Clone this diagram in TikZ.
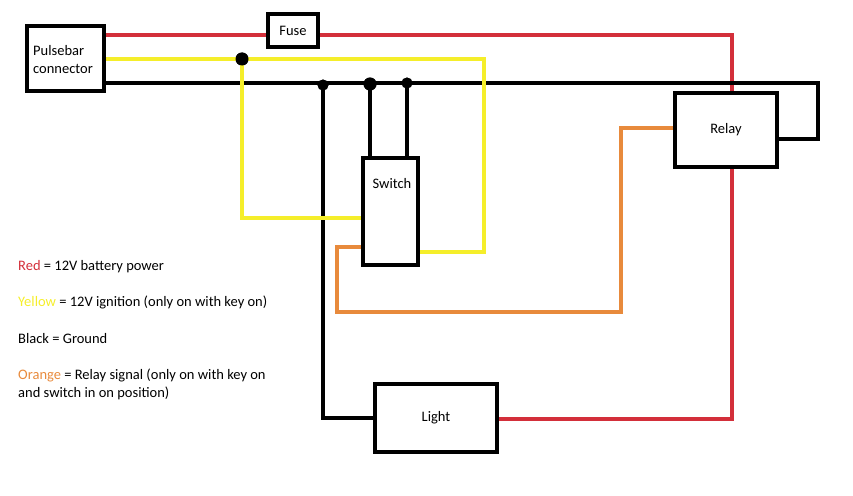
\documentclass[tikz,border=0pt]{standalone}
\usepackage{fontspec}
\setmainfont{Carlito}
\definecolor{wred}{HTML}{D32F3A}
\definecolor{wyel}{HTML}{F5EE2A}
\definecolor{worg}{HTML}{E88A3C}
\begin{document}
\begin{tikzpicture}[x=1pt,y=-1pt,
  box/.style={draw=black,line width=4pt,fill=white,inner sep=0pt,font=\fontsize{14.5}{17}\selectfont},
  wire/.style={line width=4pt},
  dotn/.style={circle,fill=black,inner sep=0pt,minimum size=13pt},
  leg/.style={anchor=west,inner sep=0pt,font=\fontsize{14.5}{18}\selectfont,align=left}]
\useasboundingbox (0,0) rectangle (853,495);
\coordinate (r1) at (732,35);
\coordinate (r2) at (732,419);
\coordinate (y1) at (484,59);
\coordinate (y2) at (484,252);
\coordinate (y3) at (242,218);
\coordinate (b1) at (818,83);
\coordinate (b2) at (818,139);
\coordinate (b3) at (323,418);
\coordinate (o1) at (337,247);
\coordinate (o2) at (337,312);
\coordinate (o3) at (621,312);
\coordinate (o4) at (621,128);
\node[box,minimum width=77pt,minimum height=65pt] (pb) at (65.5,58.5) {};
\node[box,minimum width=50pt,minimum height=33pt] (fuse) at (293,30.5) {};
\node[box,minimum width=55pt,minimum height=107pt] (sw) at (390.5,211.5) {};
\node[box,minimum width=102pt,minimum height=74pt] (relay) at (726,130) {};
\node[box,minimum width=122pt,minimum height=68pt] (light) at (436,418) {};
\node[dotn] (d1) at (242,59) {};
\node[dotn,minimum size=11pt] (d2) at (323,85) {};
\node[dotn] (d3) at (370,84) {};
\node[dotn,minimum size=11pt] (d4) at (407,83) {};
\draw[wire,wred] (pb.east |- 0,35) -- (fuse.west |- 0,35);
\draw[wire,wred] (fuse.east |- 0,35) -- (r1) -- (relay.north -| r1);
\draw[wire,wred] (relay.south -| r1) -- (r2) -- (light.east |- r2);
\draw[wire,black] (pb.east |- 0,83) -- (b1) -- (b2) -- (relay.east |- b2);
\draw[wire,black] (d2.center) -- (b3) -- (light.west |- b3);
\draw[wire,black] (d3.center) -- (sw.north -| d3);
\draw[wire,black] (d4.center) -- (sw.north -| d4);
\draw[wire,wyel] (pb.east |- 0,59) -- (y1) -- (y2) -- (sw.east |- y2);
\draw[wire,wyel] (d1.center) -- (d1.center |- y3) -- (sw.west |- y3);
\draw[wire,worg] (sw.west |- o1) -- (o1) -- (o2) -- (o3) -- (o4) -- (relay.west |- o4);
\node[box,minimum width=77pt,minimum height=65pt] at (pb) {};
\node[anchor=west,align=left,inner sep=0pt,font=\fontsize{14.5}{18}\selectfont] (pbl) at (33,60) {Pulsebar\\connector};
\node[box,minimum width=50pt,minimum height=33pt] at (fuse) {Fuse};
\node[box,minimum width=55pt,minimum height=107pt] at (sw) {};
\node[font=\fontsize{14.5}{17}\selectfont] (swl) at (392,184) {Switch};
\node[box,minimum width=102pt,minimum height=74pt] at (relay) {Relay};
\node[box,minimum width=122pt,minimum height=68pt] at (light) {Light};
\node[dotn] at (d1) {};
\node[dotn,minimum size=11pt] at (d2) {};
\node[dotn] at (d3) {};
\node[dotn,minimum size=11pt] at (d4) {};
\node[leg] (l1) at (18,267) {\textcolor{wred}{Red} = 12V battery power};
\node[leg] (l2) at (18,302) {\textcolor{wyel}{Yellow} = 12V ignition (only on with key on)};
\node[leg] (l3) at (18,339) {Black = Ground};
\node[leg] (l4) at (18,384) {\textcolor{worg}{Orange} = Relay signal (only on with key on\\and switch in on position)};
\end{tikzpicture}
\end{document}
